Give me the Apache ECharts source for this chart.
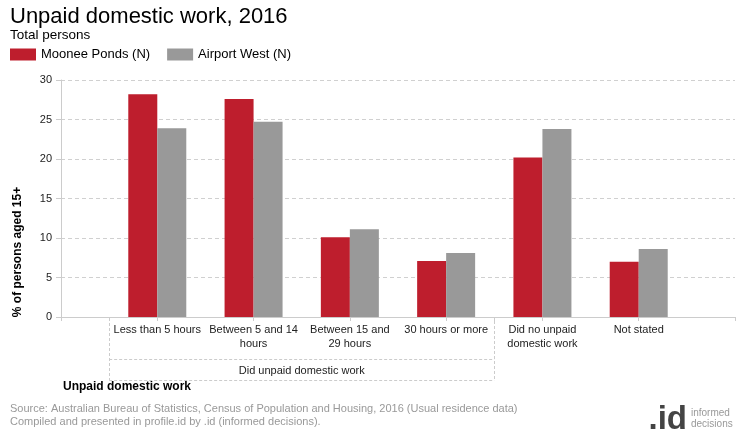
<!DOCTYPE html>
<html>
<head>
<meta charset="utf-8">
<script src="https://cdn.jsdelivr.net/npm/echarts@6/dist/echarts.min.js"></script>
<style>
html,body{margin:0;padding:0;background:#fff;}
#chart{width:740px;height:440px;}
</style>
</head>
<body>
<div id="chart"></div>
<script>
var categories = ['', 'Less than 5 hours', 'Between 5 and 14\nhours', 'Between 15 and\n29 hours', '30 hours or more', 'Did no unpaid\ndomestic work', 'Not stated', ''];
var mooneePonds = ['-', 28.2, 27.6, 10.1, 7.1, 20.2, 7.0, '-'];
var airportWest = ['-', 23.9, 24.7, 11.1, 8.1, 23.8, 8.6, '-'];
var yTicks = [0, 5, 10, 15, 20, 25, 30];
var groupLabel = 'Did unpaid domestic work';
var groupRange = [1, 4];

var FONT = '"Liberation Sans", Arial, sans-serif';
var chart = echarts.init(document.getElementById('chart'), null, {renderer: 'canvas'});

var option = {
  animation: false,
  textStyle: {fontFamily: FONT},
  title: [
    {text: 'Unpaid domestic work, 2016', left: 5, top: 1, textStyle: {fontFamily: FONT, fontSize: 22, fontWeight: 'normal', color: '#000'}},
    {text: 'Total persons', left: 5, top: 23, textStyle: {fontFamily: FONT, fontSize: 13.5, fontWeight: 'normal', color: '#000'}}
  ],
  legend: {
    left: 10, top: 48, padding: 0, itemWidth: 26, itemHeight: 12, itemGap: 17,
    icon: 'rect',
    textStyle: {fontFamily: FONT, fontSize: 13, color: '#000'},
    data: ['Moonee Ponds (N)', 'Airport West (N)']
  },
  grid: {left: 61, right: 5, top: 80, bottom: 123, containLabel: false},
  xAxis: {
    type: 'category',
    data: categories,
    boundaryGap: false,
    axisLine: {lineStyle: {color: '#ccc', width: 1}},
    axisTick: {show: true, length: 4, lineStyle: {color: '#ccc'}},
    axisLabel: {interval: 0, color: '#222', fontSize: 11, fontFamily: FONT, lineHeight: 14, margin: 6},
    splitLine: {show: false}
  },
  yAxis: {
    type: 'value', min: yTicks[0], max: yTicks[yTicks.length - 1], interval: 5,
    axisLine: {show: true, lineStyle: {color: '#ccc'}},
    axisTick: {show: true, length: 5, lineStyle: {color: '#ccc'}},
    axisLabel: {color: '#222', fontSize: 11, fontFamily: FONT, margin: 9},
    splitLine: {lineStyle: {color: '#d0d0d0', type: [4, 3]}}
  },
  series: [
    {name: 'Moonee Ponds (N)', type: 'bar', data: mooneePonds, barWidth: 29, barGap: '0%', itemStyle: {color: '#BE1E2D'}},
    {name: 'Airport West (N)', type: 'bar', data: airportWest, barWidth: 29, barGap: '0%', itemStyle: {color: '#999999'}}
  ]
};
chart.setOption(option);

function px(i) { return chart.convertToPixel({xAxisIndex: 0}, i); }
var y0 = chart.convertToPixel({yAxisIndex: 0}, 0);
var xL = (px(groupRange[0] - 1) + px(groupRange[0])) / 2;
var xR = (px(groupRange[1]) + px(groupRange[1] + 1)) / 2;
var yMid = y0 + 42, yBot = y0 + 63;
var dash = {stroke: '#ccc', lineWidth: 1, lineDash: [3, 2]};

chart.setOption({
  graphic: [
    {type: 'line', shape: {x1: Math.round(xL) + 0.5, y1: y0 + 1, x2: Math.round(xL) + 0.5, y2: yBot}, style: dash, silent: true},
    {type: 'line', shape: {x1: Math.round(xR) + 0.5, y1: y0, x2: Math.round(xR) + 0.5, y2: y0 + 4}, style: {stroke: '#ccc', lineWidth: 1}, silent: true},
    {type: 'line', shape: {x1: Math.round(xR) + 0.5, y1: y0 + 4, x2: Math.round(xR) + 0.5, y2: yBot}, style: dash, silent: true},
    {type: 'line', shape: {x1: xL, y1: yMid + 0.5, x2: xR, y2: yMid + 0.5}, style: dash, silent: true},
    {type: 'line', shape: {x1: xL, y1: yBot + 0.5, x2: xR, y2: yBot + 0.5}, style: dash, silent: true},
    {type: 'text', x: (xL + xR) / 2, y: (yMid + yBot) / 2 + 1, style: {text: groupLabel, font: '11px ' + FONT, fill: '#222', textAlign: 'center', textVerticalAlign: 'middle'}, silent: true},
    {type: 'text', x: 63, y: 387, style: {text: 'Unpaid domestic work', font: 'bold 12px ' + FONT, fill: '#000', textAlign: 'left', textVerticalAlign: 'middle'}, silent: true},
    {type: 'text', x: 18, y: 252, rotation: Math.PI / 2, style: {text: '% of persons aged 15+', font: 'bold 12px ' + FONT, fill: '#000', textAlign: 'center', textVerticalAlign: 'middle'}, silent: true},
    {type: 'text', x: 10, y: 409, style: {text: 'Source: Australian Bureau of Statistics, Census of Population and Housing, 2016 (Usual residence data)', font: '11px ' + FONT, fill: '#999', textAlign: 'left', textVerticalAlign: 'middle'}, silent: true},
    {type: 'text', x: 10, y: 422, style: {text: 'Compiled and presented in profile.id by .id (informed decisions).', font: '11px ' + FONT, fill: '#999', textAlign: 'left', textVerticalAlign: 'middle'}, silent: true},
    {type: 'text', x: 687, y: 436, style: {text: '.id', font: 'bold 33px ' + FONT, fill: '#444', textAlign: 'right', textVerticalAlign: 'bottom'}, silent: true},
    {type: 'text', x: 691, y: 413, style: {text: 'informed', font: '10px ' + FONT, fill: '#999', textAlign: 'left', textVerticalAlign: 'middle'}, silent: true},
    {type: 'text', x: 691, y: 424, style: {text: 'decisions', font: '10px ' + FONT, fill: '#999', textAlign: 'left', textVerticalAlign: 'middle'}, silent: true}
  ]
});
</script>
</body>
</html>
